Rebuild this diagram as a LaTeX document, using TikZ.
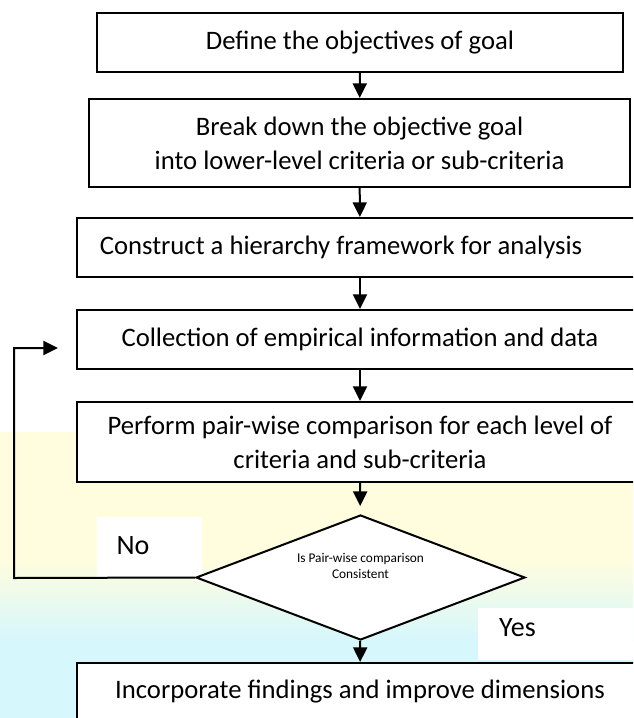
\documentclass[tikz,border=0pt]{standalone}
\usepackage{fontspec}
\setmainfont{Carlito}
\usetikzlibrary{shapes.geometric,arrows.meta}

\definecolor{bgyellow}{RGB}{255,253,222}
\definecolor{bgcyan}{RGB}{214,247,252}

\begin{document}
\begin{tikzpicture}[
    x=0.75pt, y=0.75pt, yscale=-1, xscale=1,
    box/.style={draw, line width=1.5pt, fill=white, inner sep=0pt, align=center,
        font=\fontsize{20}{25.5}\selectfont},
    decision/.style={draw, diamond, aspect=2.6, line width=1.5pt, fill=white, inner sep=0pt,
        align=center, font=\fontsize{10}{12}\selectfont},
    flow/.style={line width=1.5pt, -{Triangle[length=11pt,width=10.5pt]}},
    answer/.style={inner sep=0pt, font=\fontsize{21}{25}\selectfont}
]
\useasboundingbox (0,0) rectangle (633,718);
\clip (0,0) rectangle (633,718);

%==================== Background wash ====================
\fill[bgyellow] (0,432) rectangle (633,560);
\shade[top color=bgyellow, bottom color=bgcyan] (0,560) rectangle (633,640);
\fill[bgcyan] (0,640) rectangle (633,718);
\fill[white] (97,517) rectangle (202,577);
\fill[white] (478,608) rectangle (633,660);

%==================== Steps ====================
\node[box, minimum width=394.5pt, minimum height=44.25pt] (define) at (360,42.5)
    {Define the objectives of goal};
\node[box, minimum width=405.75pt, minimum height=66pt] (breakdown) at (359.5,143)
    {Break down the objective goal\\into lower-level criteria or sub-criteria};
\node[box, minimum width=424.5pt, minimum height=44.25pt] (construct) at (360,247.5)
    {Construct a hierarchy framework for analysis\kern28.5pt};
\node[box, minimum width=424.5pt, minimum height=44.25pt] (collect) at (360,339.5)
    {Collection of empirical information and data};
\node[box, minimum width=424.5pt, minimum height=60pt] (perform) at (360,442)
    {Perform pair-wise comparison for each level of\\criteria and sub-criteria};
\node[decision, minimum width=246.75pt, minimum height=93.75pt] (check) at (360.5,577.5)
    {Is Pair-wise comparison\\Consistent\\[6pt]};
\node[box, minimum width=424.5pt, minimum height=43.5pt] (incorporate) at (360,692)
    {Incorporate findings and improve dimensions};

%==================== Flow ====================
\draw[flow] (define) -- (breakdown);
\draw[flow] (breakdown) -- (construct);
\draw[flow] (construct) -- (collect);
\draw[flow] (collect) -- (perform);
\draw[flow, shorten >=6pt] (perform) -- (check);
\draw[flow] (check) -- (incorporate);

% loop back when not consistent
\coordinate (loopleft) at (14,578);
\coordinate (loopend) at (58,348);
\draw[flow] (check.west) -- (loopleft) |- (loopend);

%==================== Labels ====================
\node[answer] (nolabel) at (133,546) {No};
\node[answer] (yeslabel) at (517.5,628) {Yes};

\end{tikzpicture}
\end{document}
